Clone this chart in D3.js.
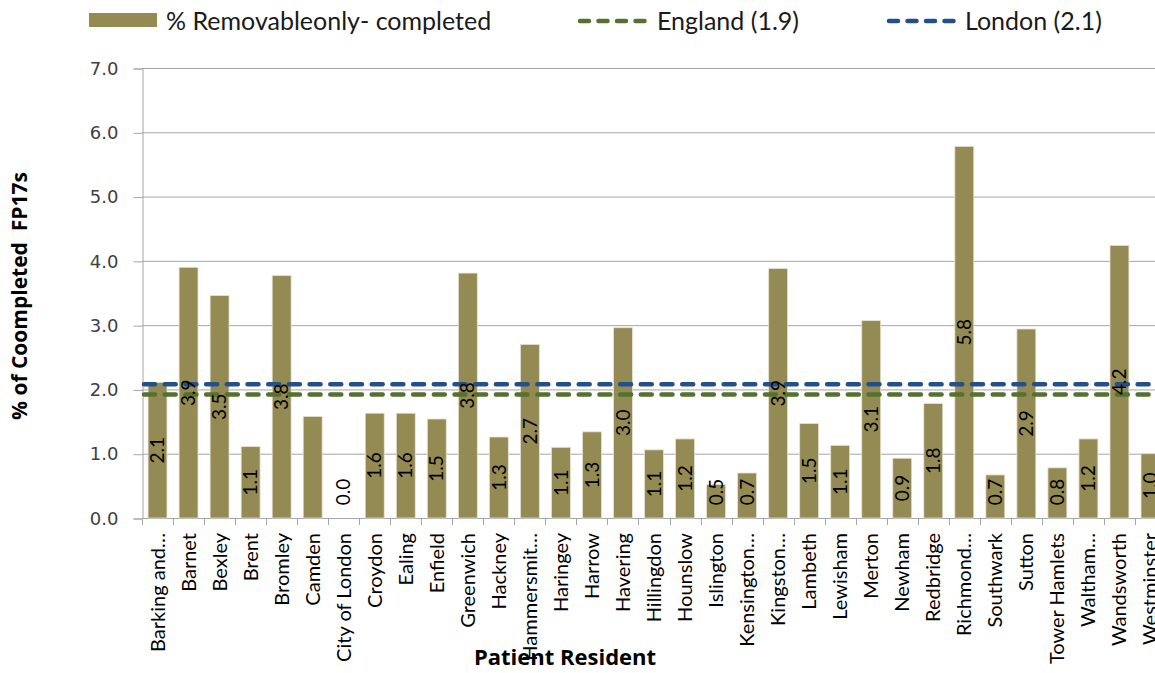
<!DOCTYPE html>
<html>
<head>
<meta charset="utf-8">
<script src="https://cdn.jsdelivr.net/npm/d3@7"></script>
<style>
  body { margin: 0; background: #fff; }
  text { white-space: pre; }
</style>
</head>
<body>
<div class="chart"></div>
<script>
const width = 1155,
    height = 673;

const boroughs = ["Barking and…", "Barnet", "Bexley", "Brent", "Bromley", "Camden", "City of London",
    "Croydon", "Ealing", "Enfield", "Greenwich", "Hackney", "Hammersmit…", "Haringey", "Harrow",
    "Havering", "Hillingdon", "Hounslow", "Islington", "Kensington…", "Kingston…", "Lambeth",
    "Lewisham", "Merton", "Newham", "Redbridge", "Richmond…", "Southwark", "Sutton",
    "Tower Hamlets", "Waltham…", "Wandsworth", "Westminster"];
const removableOnly = [2.11, 3.90, 3.46, 1.11, 3.77, 1.58, 0.0, 1.63, 1.63, 1.54, 3.81, 1.26, 2.70,
    1.10, 1.34, 2.96, 1.06, 1.23, 0.52, 0.70, 3.88, 1.47, 1.13, 3.07, 0.93, 1.78, 5.78, 0.67,
    2.94, 0.78, 1.23, 4.24, 1.00];
const england = 1.92,
    london = 2.08;
const yTicks = [0, 1, 2, 3, 4, 5, 6, 7];

const barColor = "#948A54",
    englandColor = "#56702F",
    londonColor = "#24508A",
    gridColor = "#A6A6A6";

const svg = d3.select(".chart").append("svg")
    .attr("width", width)
    .attr("height", height);

const x = d3.scaleBand()
    .domain(boroughs)
    .range([142, 1166])
    .paddingInner(0.39)
    .paddingOuter(0.195);
const y = d3.scaleLinear()
    .domain([0, 7])
    .range([518, 68]);

// gridlines
svg.append("g")
    .selectAll("line")
    .data(yTicks)
    .enter().append("line")
    .attr("x1", 142)
    .attr("x2", 1166)
    .attr("y1", d => y(d) + .5)
    .attr("y2", d => y(d) + .5)
    .style("stroke", gridColor)
    .style("stroke-width", 1);

// y axis
const yAxis = svg.append("g")
    .attr("transform", "translate(142.5,0.5)")
    .call(d3.axisLeft(y).tickValues(yTicks).tickFormat(d3.format(".1f")).tickSize(9).tickPadding(15));
yAxis.select(".domain").style("stroke", gridColor);
yAxis.selectAll(".tick line").style("stroke", gridColor);
yAxis.selectAll(".tick text")
    .style("font-family", "DejaVu Sans")
    .style("font-size", "18px")
    .style("fill", "#404040");

// x ticks between categories
const step = x.step();
svg.append("g")
    .selectAll("line")
    .data(d3.range(boroughs.length + 1))
    .enter().append("line")
    .attr("x1", i => Math.round(142 + i * step) + .5)
    .attr("x2", i => Math.round(142 + i * step) + .5)
    .attr("y1", 518)
    .attr("y2", 525)
    .style("stroke", gridColor);

// bars
svg.append("g")
    .selectAll("rect")
    .data(removableOnly)
    .enter().append("rect")
    .attr("x", (d, i) => x(boroughs[i]))
    .attr("y", d => y(d))
    .attr("width", x.bandwidth())
    .attr("height", d => y(0) - y(d))
    .style("fill", barColor)
    .style("stroke", "#E6E2D0")
    .style("stroke-width", .8);

// reference lines
[[england, englandColor], [london, londonColor]].forEach(([v, c]) => {
    svg.append("line")
        .attr("x1", 144)
        .attr("x2", 1166)
        .attr("y1", y(v))
        .attr("y2", y(v))
        .style("stroke", c)
        .style("stroke-width", 4.5)
        .style("stroke-linecap", "round")
        .style("stroke-dasharray", "11,9.7");
});

// data labels (Camden's sits off the bar in the original, left out)
svg.append("g")
    .selectAll("text")
    .data(removableOnly.map((v, i) => ({v, name: boroughs[i]})).filter(d => d.name !== "Camden"))
    .enter().append("text")
    .attr("transform", d => {
        const cx = x(d.name) + x.bandwidth() / 2;
        const cy = Math.min((y(0) + y(d.v)) / 2, y(0) - 26);
        return `translate(${cx},${cy}) rotate(-90)`;
    })
    .attr("text-anchor", "middle")
    .attr("dy", "0.35em")
    .style("font-family", "Lato")
    .style("font-size", "19px")
    .style("fill", "#000")
    .text(d => d3.format(".1f")(d.v));

// category labels
svg.append("g")
    .selectAll("text")
    .data(boroughs)
    .enter().append("text")
    .attr("transform", d => `translate(${x(d) + x.bandwidth() / 2},533) rotate(-90)`)
    .attr("text-anchor", "end")
    .attr("dy", "0.35em")
    .style("font-family", "Lato")
    .style("font-size", "20px")
    .style("fill", "#000")
    .text(d => d);

// axis titles
svg.append("text")
    .attr("transform", "translate(20,296) rotate(-90)")
    .attr("text-anchor", "middle")
    .attr("dy", "0.35em")
    .style("font-family", "Open Sans")
    .style("font-weight", "bold")
    .style("font-size", "21px")
    .text("% of Coompleted  FP17s");
svg.append("text")
    .attr("x", 565)
    .attr("y", 665)
    .attr("text-anchor", "middle")
    .style("font-family", "Open Sans")
    .style("font-weight", "bold")
    .style("font-size", "22px")
    .text("Patient Resident");

// legend
const legend = svg.append("g");
legend.append("rect")
    .attr("x", 89)
    .attr("y", 13)
    .attr("width", 68)
    .attr("height", 14)
    .style("fill", barColor);
legend.append("text")
    .attr("x", 166)
    .attr("y", 21)
    .attr("dy", "0.35em")
    .style("font-family", "Lato")
    .style("font-size", "25px")
    .style("fill", "#1a1a1a")
    .text("% Removableonly- completed");
[[578, englandColor, 657, "England (1.9)"], [887, londonColor, 965, "London (2.1)"]].forEach(([lx, c, tx, t]) => {
    legend.append("line")
        .attr("x1", lx + 2)
        .attr("x2", lx + 72)
        .attr("y1", 21)
        .attr("y2", 21)
        .style("stroke", c)
        .style("stroke-width", 4.5)
        .style("stroke-linecap", "round")
        .style("stroke-dasharray", "9,9.5");
    legend.append("text")
        .attr("x", tx)
        .attr("y", 21)
        .attr("dy", "0.35em")
        .style("font-family", "Lato")
        .style("font-size", "25px")
        .style("fill", "#1a1a1a")
        .text(t);
});
</script>
</body>
</html>
